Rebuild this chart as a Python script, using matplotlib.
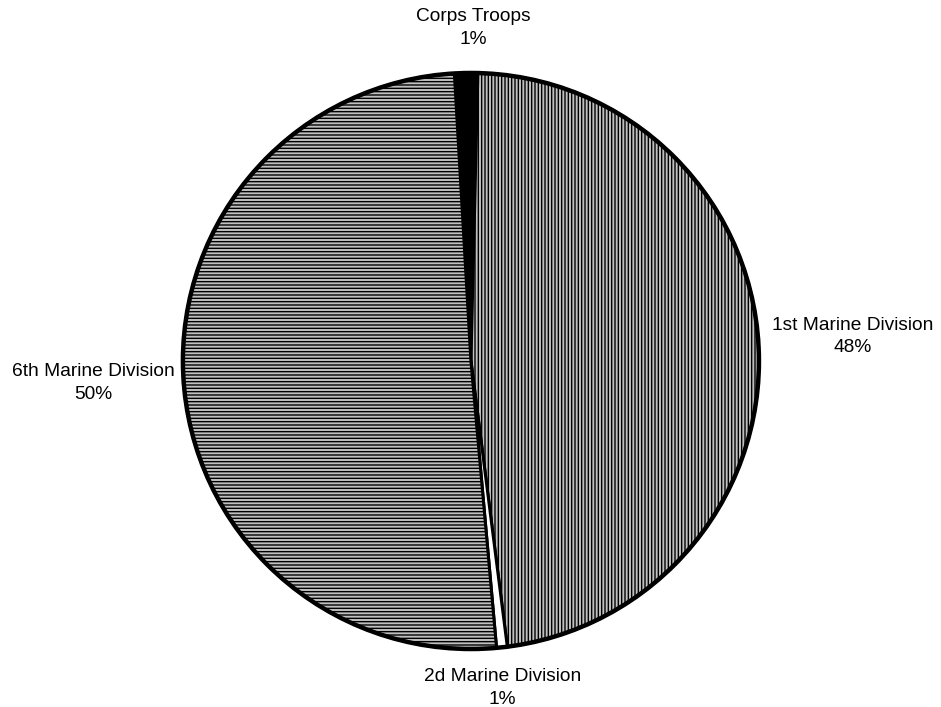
import matplotlib
matplotlib.use("Agg")
import matplotlib.pyplot as plt

plt.rcParams['font.family'] = ['Liberation Sans', 'DejaVu Sans']
plt.rcParams['hatch.linewidth'] = 1.0

labels = ['Corps Troops', '1st Marine Division', '2d Marine Division', '6th Marine Division']
shares = [1.3, 47.6, 0.6, 50.5]
pct_text = ['1%', '48%', '1%', '50%']
faces = ['black', '#c0c0c0', 'white', '#c0c0c0']
hatches = [None, '|||||', None, '-----']

fig = plt.figure(figsize=(9.41, 7.07), dpi=100)
ax = fig.add_axes([0, 0, 1, 1])

wedges, _ = ax.pie(shares, startangle=93.3, counterclock=False,
                   colors=faces, radius=1.0, center=(0, 0),
                   wedgeprops=dict(edgecolor='black', linewidth=2.2))
for w, h in zip(wedges, hatches):
    if h:
        w.set_hatch(h)

# thick outer rim
ax.add_patch(plt.Circle((0, 0), 1.0, fill=False, edgecolor='black', linewidth=3.2, zorder=5))

# label positions (data units, pie radius = 1)
label_pos = [(0.007, 1.155), (1.325, 0.085), (0.11, -1.135), (-1.31, -0.075)]
for name, pct, (x, y) in zip(labels, pct_text, label_pos):
    ax.text(x, y, name + '\n' + pct, ha='center', va='center',
            fontsize=13.8, multialignment='center', linespacing=1.45)

ax.set_aspect('equal')
ax.set_xlim(-1.635, 1.632)
ax.set_ylim(-1.201, 1.253)
ax.axis('off')

fig.savefig('out.png', dpi=100, facecolor='white')
